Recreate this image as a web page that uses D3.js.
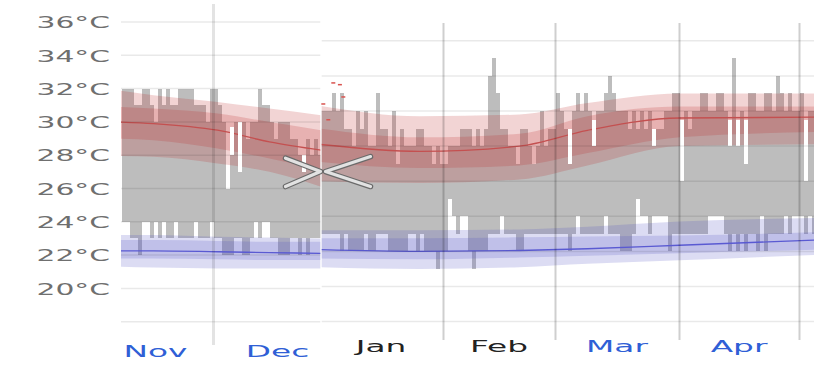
<!DOCTYPE html>
<meta charset="utf-8">
<script src="https://d3js.org/d3.v7.min.js"></script>
<style>
  body { margin: 0; background: #fff; }
</style>
<div id="chart"></div>
<script>

// ---- data ----
// left part: days counted from Nov 1, bars start at day 7
var firstDayL = 7;
var highsL = [32,32,32,31,31,32,32,31,30,32, 31,32,31,31,32,32,32,32,31,31,
              31,30,32,32,31,30,26,28,30,27, 30,29,30,30,32,31,31,30,29,30,
              30,30,29,29,28,27,29,28,29,28];
var lowsL  = [24,24,23,23,22,24,24,23,24,23, 24,23,23,24,23,23,23,23,24,23,
              23,23,24,23,23,22,22,22,23,23, 22,22,23,24,23,24,24,23,23,22,
              22,22,23,23,22,23,22,23,23,23];
var gapDaysL = [33, 34, 36, 52];
var gapTopsL = [27, 29.7, 30, 28];

var bandDaysL = [6, 15, 31, 44, 57];
var redP90L  = [31.9, 31.6, 31.2, 30.8, 30.4];
var redP75L  = [30.9, 30.8, 30.5, 30.0, 29.5];
var redMeanL = [30.0, 29.9, 29.5, 28.8, 28.3];
var redP25L  = [29.0, 28.9, 28.4, 27.8, 27.1];
var redP10L  = [27.95, 27.9, 27.5, 27.0, 26.1];
var bluP90L  = [23.2, 23.2, 23.1, 23.05, 23.0];
var bluP75L  = [22.9, 22.9, 22.85, 22.8, 22.8];
var bluMeanL = [22.25, 22.25, 22.2, 22.15, 22.1];
var bluP25L  = [21.8, 21.8, 21.75, 21.7, 21.7];
var bluP10L  = [21.3, 21.25, 21.2, 21.2, 21.2];

var monthStartsL = [30];
var monthMidL = [15, 45.5];
var monthNamesL = ["Nov", "Dec"];

// right part: days counted from Jan 1
var firstDayR = 0;
var highsR = [30,30,30,31,30,31,29,29,28,30, 29,30,28,28,31,29,29,28,30,27,
              29,28,28,28,29,29,28,28,27,28, 27,27,28,28,28,29,29,29,28,29,
              28,29,32,33,31,29,29,28,28,27, 29,29,28,27,28,30,28,29,29,31,
              30,29,27,30,31,30,31,30,28,30, 30,31,32,31,30,30,30,29,30,29,
              30,29,30,28,29,29,30,30,31,31, 26,30,29,30,30,31,31,30,30,31,
              31,30,28,33,28,30,27,31,31,30, 30,31,31,30,32,31,30,31,30,30,
              31,26,30,30];
var lowsR  = [23,23,23,23,23,22,23,22,22,22, 22,23,22,22,23,23,23,22,22,22,
              22,22,23,23,22,23,22,22,22,21, 22,22,25,24,23,24,24,22,21,22,
              22,22,23,23,23,24,23,23,23,22, 22,23,23,23,23,23,23,23,23,23,
              23,23,22,23,24,23,23,23,23,23, 23,24,23,23,23,22,22,22,23,25,
              24,24,23,24,24,24,24,22,23,23, 23,23,23,23,23,23,23,24,24,24,
              24,23,22,23,22,23,22,23,23,22, 24,22,23,23,23,23,24,23,24,24,
              24,23,24,23];
var gapDaysR = [62, 68, 83, 90, 102, 104, 106, 121];
var gapTopsR = [29, 29.5, 29, 29.5, 29.5, 29.5, 29.5, 29.5];

var bandDaysR = [0, 25, 50, 67, 90, 124];
var redP90R  = [30.3, 29.7, 29.8, 30.45, 31.0, 31.0];
var redP75R  = [29.0, 28.5, 28.7, 29.7, 30.25, 30.25];
var redMeanR = [28.1, 27.7, 28.0, 28.9, 29.6, 29.65];
var redP25R  = [27.1, 26.75, 26.9, 27.6, 28.5, 28.8];
var redP10R  = [26.0, 25.9, 26.1, 26.9, 28.0, 28.1];
var bluP90R  = [23.2, 23.2, 23.25, 23.4, 23.7, 23.9];
var bluP75R  = [22.75, 22.75, 22.8, 22.85, 22.9, 23.1];
var bluMeanR = [22.1, 22.0, 22.05, 22.15, 22.35, 22.65];
var bluP25R  = [21.6, 21.55, 21.65, 21.75, 21.9, 22.1];
var bluP10R  = [21.1, 21.0, 21.1, 21.3, 21.5, 21.8];

// little red marks at the start of January
var recordDays  = [3.45, 5.1, 5.95, 0.95, 2.2];
var recordTemps = [31.6, 31.5, 30.8, 30.4, 29.5];

var monthStartsR = [31, 59, 90, 120];
var monthMidR = [15.5, 45, 74.5, 105];
var monthNamesR = ["Jan", "Feb", "Mar", "Apr"];

var yTicks = [20, 22, 24, 26, 28, 30, 32, 34, 36];
var gridL = [18, 20, 22, 24, 26, 28, 30, 32, 34, 36];
var gridR = [18, 20, 22, 24, 26, 28, 30, 32, 34];

// ---- svg ----
var W = 814, H = 370;
var font = "'DejaVu Sans', Verdana, sans-serif";
var svg = d3.select("#chart").append("svg")
    .attr("width", W)
    .attr("height", H);

var yL = d3.scaleLinear().domain([18, 36]).range([321.7, 22]);
var yR = d3.scaleLinear().domain([18, 34]).range([321.6, 40.8]);
var xL = d3.scaleLinear().domain([0, 61]).range([93.5, 93.5 + 61 * 4]);
var xR = d3.scaleLinear().domain([0, 124]).range([319.5, 319.5 + 124 * 4]);

var defs = svg.append("defs");
defs.append("clipPath").attr("id", "clipL")
  .append("rect").attr("x", 121).attr("y", 0).attr("width", 199.3).attr("height", H);
defs.append("clipPath").attr("id", "clipR")
  .append("rect").attr("x", 321.7).attr("y", 0).attr("width", W - 321.7).attr("height", H);

function panel(p) {
  var g = svg.append("g").attr("clip-path", "url(#" + p.clip + ")");

  // daily high/low bars
  g.append("g").selectAll("rect")
    .data(p.highs)
    .join("rect")
      .attr("x", function(d, i) { return p.x(p.firstDay + i) })
      .attr("width", function(d, i) { return p.x(p.firstDay + i + 1) - p.x(p.firstDay + i) })
      .attr("y", function(d) { return p.y(d) })
      .attr("height", function(d, i) { return p.y(p.lows[i]) - p.y(d) })
      .attr("fill", "#bdbdbd")
      .attr("shape-rendering", "crispEdges");

  function band(lo, hi, fill) {
    g.append("path")
      .datum(p.bandDays)
      .attr("fill", fill)
      .attr("fill-opacity", 0.2)
      .attr("d", d3.area().curve(d3.curveMonotoneX)
        .x(function(d) { return p.x(d) })
        .y0(function(d, i) { return p.y(lo[i]) })
        .y1(function(d, i) { return p.y(hi[i]) }));
  }
  function mean(vals, color) {
    g.append("path")
      .datum(p.bandDays)
      .attr("fill", "none")
      .attr("stroke", color)
      .attr("stroke-width", 1.3)
      .attr("d", d3.line().curve(d3.curveMonotoneX)
        .x(function(d) { return p.x(d) })
        .y(function(d, i) { return p.y(vals[i]) }));
  }
  band(p.redP10, p.redP90, "rgb(190,40,40)");
  band(p.redP25, p.redP75, "rgb(190,40,40)");
  band(p.bluP10, p.bluP90, "rgb(80,80,195)");
  band(p.bluP25, p.bluP75, "rgb(80,80,195)");
  mean(p.redMean, "#c45050");
  mean(p.bluMean, "#5a5ad2");

  // white gaps above some short days
  g.append("g").selectAll("rect")
    .data(p.gapDays)
    .join("rect")
      .attr("x", function(d) { return p.x(d) })
      .attr("width", function(d) { return p.x(d + 1) - p.x(d) })
      .attr("y", function(d, i) { return p.y(p.gapTops[i]) })
      .attr("height", function(d, i) { return p.y(p.highs[d - p.firstDay]) - p.y(p.gapTops[i]) })
      .attr("fill", "#fff")
      .attr("shape-rendering", "crispEdges");

  // horizontal grid
  svg.append("g").selectAll("line")
    .data(p.grid)
    .join("line")
      .attr("x1", p.gx[0]).attr("x2", p.gx[1])
      .attr("y1", function(d) { return p.y(d) })
      .attr("y2", function(d) { return p.y(d) })
      .attr("stroke", "rgba(0,0,0,0.085)")
      .attr("stroke-width", 1.5);

  // month separators
  svg.append("g").selectAll("line")
    .data(p.monthStarts)
    .join("line")
      .attr("x1", function(d) { return p.x(d) })
      .attr("x2", function(d) { return p.x(d) })
      .attr("y1", p.my[0]).attr("y2", p.my[1])
      .attr("stroke", p.mColor)
      .attr("stroke-width", p.mWidth);

  // month labels
  var ax = svg.append("g")
    .attr("transform", "translate(" + p.labelDx + "," + p.labelY + ")")
    .call(d3.axisBottom(p.x)
      .tickValues(p.monthMid)
      .tickFormat(function(d, i) { return p.monthNames[i] })
      .tickSize(0)
      .tickPadding(0))
    .attr("font-family", font)
    .attr("font-size", 16);
  ax.select(".domain").remove();
  ax.selectAll("text")
    .attr("y", 0)
    .attr("dy", 0)
    .attr("transform", "scale(2.05,1)")
    .attr("fill", function(d, i) { return p.monthColors[i] });
}

panel({
  clip: "clipL", x: xL, y: yL, firstDay: firstDayL,
  highs: highsL, lows: lowsL, gapDays: gapDaysL, gapTops: gapTopsL,
  bandDays: bandDaysL,
  redP10: redP10L, redP25: redP25L, redMean: redMeanL, redP75: redP75L, redP90: redP90L,
  bluP10: bluP10L, bluP25: bluP25L, bluMean: bluMeanL, bluP75: bluP75L, bluP90: bluP90L,
  grid: gridL, gx: [121, 320.3],
  monthStarts: monthStartsL, my: [4, 345], mColor: "rgba(0,0,0,0.11)", mWidth: 3,
  monthMid: monthMidL, monthNames: monthNamesL, monthColors: ["#2f5fd6", "#2f5fd6"],
  labelDx: 1.5, labelY: 357
});

panel({
  clip: "clipR", x: xR, y: yR, firstDay: firstDayR,
  highs: highsR, lows: lowsR, gapDays: gapDaysR, gapTops: gapTopsR,
  bandDays: bandDaysR,
  redP10: redP10R, redP25: redP25R, redMean: redMeanR, redP75: redP75R, redP90: redP90R,
  bluP10: bluP10R, bluP25: bluP25R, bluMean: bluMeanR, bluP75: bluP75R, bluP90: bluP90R,
  grid: gridR, gx: [321.7, W],
  monthStarts: monthStartsR, my: [23, 340], mColor: "rgba(0,0,0,0.19)", mWidth: 2,
  monthMid: monthMidR, monthNames: monthNamesR,
  monthColors: ["#222", "#222", "#2f5fd6", "#2f5fd6"],
  labelDx: -1, labelY: 352
});

// red record ticks
svg.append("g").selectAll("line")
  .data(recordDays)
  .join("line")
    .attr("x1", function(d) { return xR(d) - 2 })
    .attr("x2", function(d) { return xR(d) + 2 })
    .attr("y1", function(d, i) { return yR(recordTemps[i]) })
    .attr("y2", function(d, i) { return yR(recordTemps[i]) })
    .attr("stroke", "#d9534f")
    .attr("stroke-width", 1.5);

// y axis labels (left part)
var yAxis = svg.append("g")
  .attr("transform", "translate(110,0)")
  .call(d3.axisLeft(yL)
    .tickValues(yTicks)
    .tickFormat(function(d) { return d + "°C" })
    .tickSize(0)
    .tickPadding(0))
  .attr("font-family", font)
  .attr("font-size", 16);
yAxis.select(".domain").remove();
yAxis.selectAll("text")
  .attr("x", 0)
  .attr("dy", "0.36em")
  .attr("transform", "scale(1.86,1)")
  .attr("fill", "#6f6f6f");

// the collapse chevrons sitting on the seam
var seamX = xR(0) + 1, seamY = yR(26.55);
var chevrons = [
  [[seamX - 35, seamY - 13.4], [seamX, seamY], [seamX - 35, seamY + 15]],
  [[seamX + 50, seamY - 15], [seamX + 5, seamY], [seamX + 50, seamY + 15]]
];
var chev = svg.append("g");
chevrons.forEach(function(pts) {
  chev.append("path").attr("d", d3.line()(pts))
    .attr("fill", "none").attr("stroke", "#6a6a6a").attr("stroke-width", 5.5)
    .attr("stroke-linecap", "round").attr("stroke-linejoin", "round");
  chev.append("path").attr("d", d3.line()(pts))
    .attr("fill", "none").attr("stroke", "#e2e2e2").attr("stroke-width", 3.2)
    .attr("stroke-linecap", "round").attr("stroke-linejoin", "round");
});

</script>
